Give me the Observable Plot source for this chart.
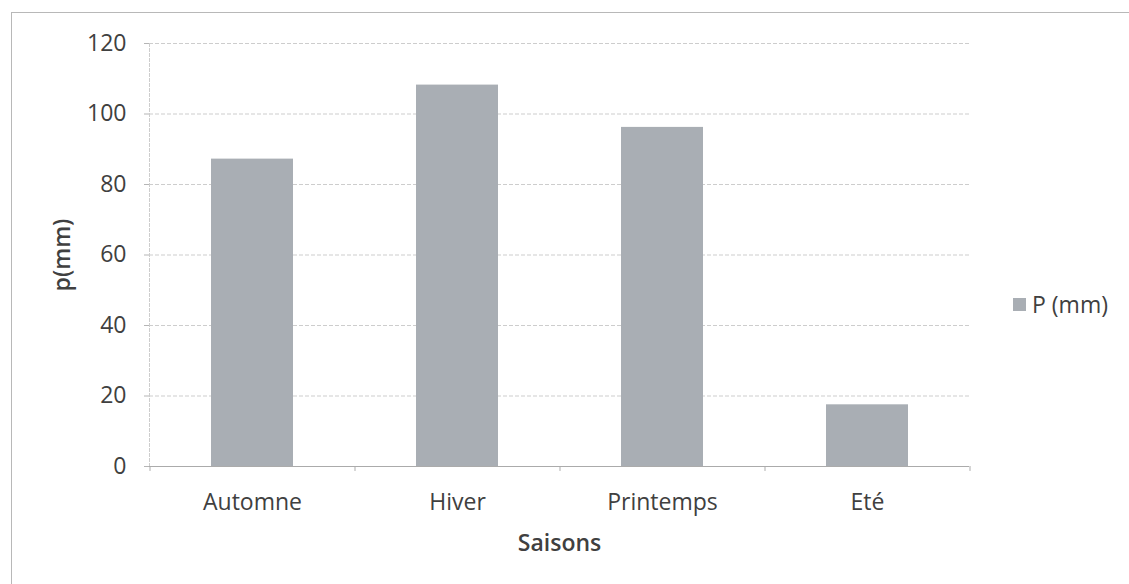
<!DOCTYPE html>
<html>
<head>
<meta charset="utf-8">
<script src="https://cdn.jsdelivr.net/npm/d3@7"></script>
<script src="https://cdn.jsdelivr.net/npm/@observablehq/plot@0.6"></script>
<style>
  html, body { margin: 0; padding: 0; background: #fff; }
  #wrap { position: relative; width: 1129px; height: 584px; overflow: hidden; }
  #frame { position: absolute; left: 11px; top: 12px; right: -2px; bottom: -2px;
           border-top: 1.5px solid #b8b8b8; border-left: 1.5px solid #b8b8b8; pointer-events: none; }
  #legend { position: absolute; left: 1013px; top: 288px; font: 23px "Open Sans", sans-serif;
            color: #404040; display: flex; align-items: center; gap: 6px; white-space: nowrap; }
  #legend .sw { width: 13px; height: 13px; background: #a9aeb4; display: inline-block; }
  svg g[aria-label="x-axis label"] text, svg g[aria-label="y-axis label"] text { font-weight: 600; }
</style>
</head>
<body>
<div id="wrap">
  <div id="chart"></div>
  <div id="frame"></div>
  <div id="legend"><span class="sw"></span><span class="lbl"></span></div>
</div>
<script>
// Seasonal precipitation totals
const seasons = ["Automne", "Hiver", "Printemps", "Eté"];
const precip = [87.2, 108.2, 96.2, 17.5];
const yTicks = [0, 20, 40, 60, 80, 100, 120];
const seriesName = "P (mm)";
const xTitle = "Saisons";
const yTitle = "p(mm)";

const barColor = "#a9aeb4";
const textColor = "#404040";

const rows = seasons.map((s, i) => ({season: s, p: precip[i]}));

const chart = Plot.plot({
  width: 1129,
  height: 584,
  marginLeft: 149,
  marginRight: 160,
  marginTop: 43,
  marginBottom: 118,
  style: {fontFamily: "'Open Sans', sans-serif", fontSize: "23px", color: textColor, background: "#fff"},
  x: {domain: seasons, paddingInner: 0.6, paddingOuter: 0.3, align: 0.5},
  y: {domain: [0, 120]},
  marks: [
    Plot.gridY(yTicks, {stroke: "#cdcdcd", strokeOpacity: 1, strokeDasharray: "4,2"}),
    Plot.frame({anchor: "left", stroke: "#cdcdcd", strokeDasharray: "3,2"}),
    Plot.barY(rows, {x: "season", y: "p", fill: barColor}),
    Plot.ruleY([0], {stroke: "#ababab"}),
    // category boundary tick marks below the baseline
    Plot.ruleX(seasons, {x: d => d, dx: -102.5, y1: 0, y2: -1.4, stroke: "#ababab"}),
    Plot.ruleX(seasons.slice(-1), {x: d => d, dx: 102.5, y1: 0, y2: -1.4, stroke: "#ababab"}),
    Plot.axisY({ticks: yTicks, tickSize: 5, tickPadding: 18, stroke: "#b5b5b5", fill: textColor,
                label: yTitle, labelAnchor: "center", labelArrow: "none", labelOffset: 96}),
    Plot.axisX({tickSize: 0, tickPadding: 27, fill: textColor,
                label: xTitle, labelAnchor: "center", labelArrow: "none", labelOffset: 84})
  ]
});
document.getElementById("chart").appendChild(chart);
document.querySelector("#legend .lbl").textContent = seriesName;
</script>
</body>
</html>
